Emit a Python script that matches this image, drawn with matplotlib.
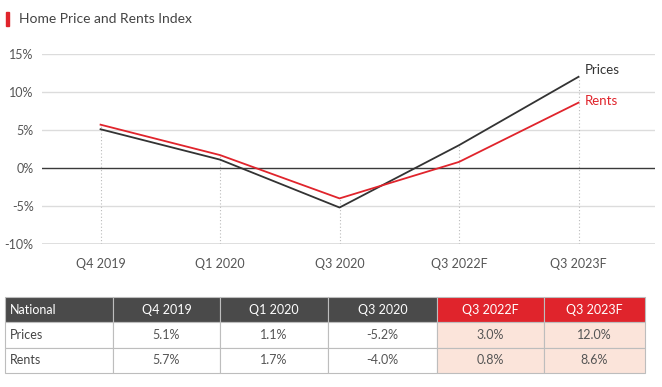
import matplotlib

matplotlib.use("Agg")
import matplotlib.pyplot as plt
from matplotlib.patches import Rectangle

plt.rcParams["font.family"] = ["Lato", "DejaVu Sans"]

# ---------------------------------------------------------------- data
quarters = ["Q4 2019", "Q1 2020", "Q3 2020", "Q3 2022F", "Q3 2023F"]
prices = [5.1, 1.1, -5.2, 3.0, 12.0]
rents = [5.7, 1.7, -4.0, 0.8, 8.6]
forecast = [False, False, False, True, True]
yticks = [-10, -5, 0, 5, 10, 15]

DARK = "#333333"
RED = "#e0242c"
GRID = "#dcdcdc"
TXT = "#555555"

W, H = 662, 387
fig = plt.figure(figsize=(W / 100, H / 100), dpi=100)

# title with red marker
fig.add_artist(Rectangle((6 / W, 1 - 26 / H), 3 / W, 14 / H, color=RED,
                         transform=fig.transFigure))
fig.text(19 / W, 1 - 19 / H, "Home Price and Rents Index", fontsize=10,
         color="#444444", va="center", ha="left")

# ---------------------------------------------------------------- line chart
ax = fig.add_axes([42 / W, 1 - 244 / H, (655 - 42) / W, (244 - 54) / H])
xs = list(range(len(quarters)))
ax.set_xlim(-0.49, 4.64)
ax.set_ylim(-10, 15)
for t in yticks:
    if t == 0:
        ax.axhline(0, color="#3a3a3a", lw=1, zorder=2)
    else:
        ax.axhline(t, color=GRID, lw=2 if t == -10 else 1, zorder=1)
for x, p, r in zip(xs, prices, rents):
    ax.plot([x, x], [-10, max(p, r)], color="#bbbbbb", lw=0.8, ls=(0, (1, 2)),
            zorder=1)
ax.plot(xs, prices, color=DARK, lw=1.3, zorder=3)
ax.plot(xs, rents, color=RED, lw=1.3, zorder=3)
ax.text(xs[-1] + 0.05, prices[-1] + 0.9, "Prices", color=DARK, fontsize=9.5,
        va="center", ha="left")
ax.text(xs[-1] + 0.05, rents[-1] + 0.2, "Rents", color=RED, fontsize=9.5,
        va="center", ha="left")
ax.set_xticks(xs)
ax.set_xticklabels(quarters)
ax.set_yticks(yticks)
ax.set_yticklabels([f"{t}%" for t in yticks])
ax.tick_params(length=0, labelsize=9, labelcolor=TXT, pad=6)
ax.tick_params(axis="x", pad=10)
for s in ax.spines.values():
    s.set_visible(False)
ax.patch.set_alpha(0)

# ---------------------------------------------------------------- table
tab = fig.add_axes([0, 0, 1, 1])
tab.set_xlim(0, W)
tab.set_ylim(H, 0)
tab.axis("off")
col_x = [5, 113, 220, 328, 437, 544, 645]
row_y = [297, 322, 348, 373]
header = ["National"] + quarters
rows = [["Prices"] + [f"{v:.1f}%" for v in prices],
        ["Rents"] + [f"{v:.1f}%" for v in rents]]
for c in range(6):
    x0, x1 = col_x[c], col_x[c + 1]
    is_fc = c > 0 and forecast[c - 1]
    tab.add_patch(Rectangle((x0, row_y[0]), x1 - x0, row_y[1] - row_y[0],
                            facecolor=RED if is_fc else "#4a4a4a",
                            edgecolor="#bdbdbd", lw=0.8))
    tab.text(x0 + 5 if c == 0 else (x0 + x1) / 2, (row_y[0] + row_y[1]) / 2,
             header[c], color="white", fontsize=9, va="center",
             ha="left" if c == 0 else "center")
    for r, row in enumerate(rows):
        y0, y1 = row_y[r + 1], row_y[r + 2]
        tab.add_patch(Rectangle((x0, y0), x1 - x0, y1 - y0,
                                facecolor="#fbe4da" if is_fc else "white",
                                edgecolor="#bdbdbd", lw=0.8))
        tab.text(x0 + 5 if c == 0 else (x0 + x1) / 2, (y0 + y1) / 2, row[c],
                 color="#444444" if c == 0 else TXT, fontsize=9, va="center",
                 ha="left" if c == 0 else "center")

fig.savefig("out.png", dpi=100)
